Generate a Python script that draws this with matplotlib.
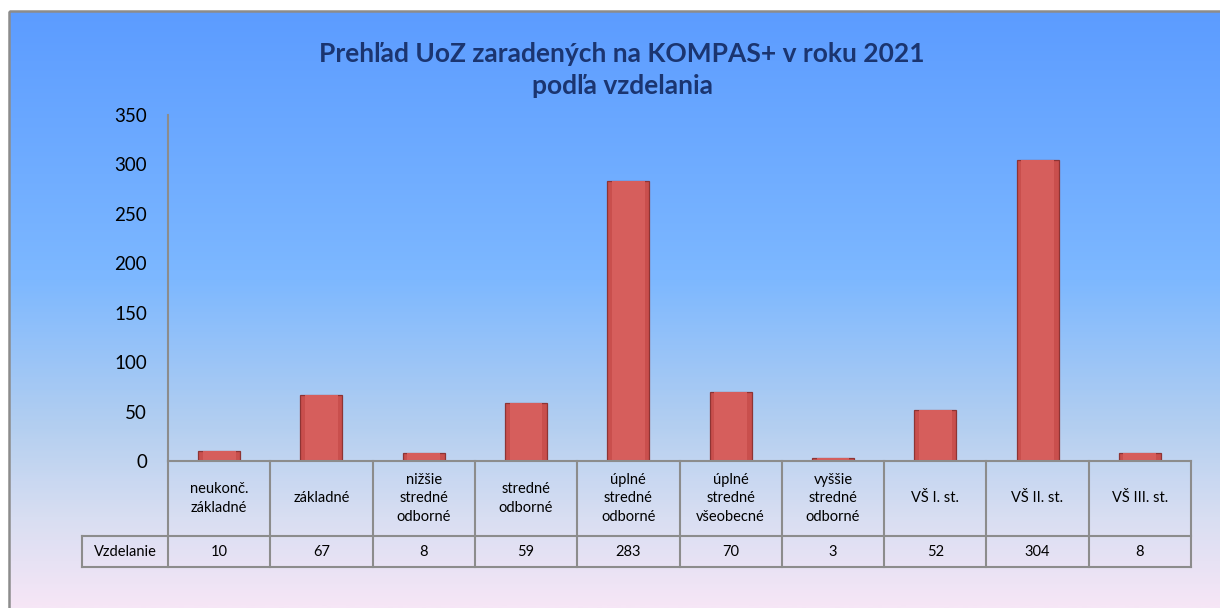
import numpy as np
import matplotlib.pyplot as plt
from matplotlib.colors import LinearSegmentedColormap
from matplotlib.patches import Rectangle

categories = ["neukonč.\nzákladné", "základné", "nižšie\nstredné\nodborné", "stredné\nodborné",
              "úplné\nstredné\nodborné", "úplné\nstredné\nvšeobecné", "vyššie\nstredné\nodborné",
              "VŠ I. st.", "VŠ II. st.", "VŠ III. st."]
values = [10, 67, 8, 59, 283, 70, 3, 52, 304, 8]
series_name = "Vzdelanie"
title = "Prehľad UoZ zaradených na KOMPAS+ v roku 2021\npodľa vzdelania"

plt.rcParams['font.family'] = ['Lato', 'DejaVu Sans']

W, H = 1220, 608
fig = plt.figure(figsize=(W / 100, H / 100), dpi=100)


def fx(px):
    return px / W


def fy(py):
    return 1 - py / H


# background gradient inside the chart frame
bg = fig.add_axes([0, 0, 1, 1], zorder=-5)
bg.set_xlim(0, W)
bg.set_ylim(H, 0)
bg.axis('off')
grad_cmap = LinearSegmentedColormap.from_list(
    'bg', [(0.0, '#5c9cff'), (0.45, '#7db8ff'), (0.7, '#b4cff0'), (0.85, '#d8def2'), (1.0, '#f6e6f6')])
grad = np.linspace(0, 1, 300).reshape(-1, 1)
bg.imshow(grad, cmap=grad_cmap, aspect='auto', extent=[9, W + 5, H, 11], zorder=0)
bg.add_patch(Rectangle((9, 11), W, H, fill=False, edgecolor='#8c8c8c', linewidth=1.8, zorder=1))

# main bar axes
left, right, top, base = 168, 1191, 115, 461
ax = fig.add_axes([fx(left), fy(base), fx(right - left), fy(top) - fy(base)])
ax.patch.set_alpha(0)
x = np.arange(len(values))
ax.bar(x, values, width=0.41, color='#c94f4d', edgecolor='#8e3434', linewidth=0.9, zorder=3)
ax.bar(x, values, width=0.32, color='#d65e5c', linewidth=0, zorder=4)
ax.set_xlim(-0.5, len(values) - 0.5)
ax.set_ylim(0, 350)
ax.set_yticks(range(0, 351, 50))
ax.tick_params(axis='y', length=0, pad=15, labelsize=13.5)
ax.set_xticks([])
for s in ['top', 'right', 'bottom']:
    ax.spines[s].set_visible(False)
ax.spines['left'].set_color('#8c8c8c')
ax.spines['left'].set_linewidth(1.5)

# data table below
tleft, row1, row2 = 82, 536, 567
tab = fig.add_axes([fx(tleft), fy(row2), fx(right - tleft), fy(base) - fy(row2)])
tab.patch.set_alpha(0)
tab.set_xlim(tleft, right)
tab.set_ylim(row2, base)
tab.axis('off')
lc = dict(color='#8c8c8c', linewidth=1.5, clip_on=False)
cw = (right - left) / len(values)
tab.plot([left, right], [base, base], **lc)
tab.plot([tleft, right], [row1, row1], **lc)
tab.plot([tleft, right], [row2, row2], **lc)
tab.plot([tleft, tleft], [row1, row2], **lc)
for i in range(len(values) + 1):
    tab.plot([left + i * cw, left + i * cw], [base, row2], **lc)
for i, (c, v) in enumerate(zip(categories, values)):
    cx = left + (i + 0.5) * cw
    tab.text(cx, (base + row1) / 2, c, ha='center', va='center', fontsize=10.5, linespacing=1.45)
    tab.text(cx, (row1 + row2) / 2, str(v), ha='center', va='center', fontsize=10.5)
tab.text((tleft + left) / 2, (row1 + row2) / 2, series_name, ha='center', va='center', fontsize=10.5)

fig.text(fx(622), fy(70), title, ha='center', va='center', fontsize=19, fontweight='bold',
         color='#1b3570', linespacing=1.4)

fig.savefig('out.png', dpi=100)
